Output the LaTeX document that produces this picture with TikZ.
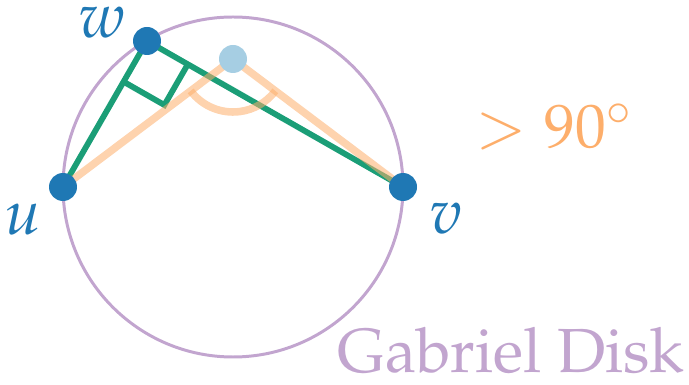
\documentclass[tikz,border=0pt]{standalone}
\usepackage[T1]{fontenc}
\usepackage{mathpazo}
\usepackage{tikz}
\usetikzlibrary{calc}
\usepackage{xcolor}
\definecolor{GDBlue}{HTML}{1F78B4}
\definecolor{GDLightBlue}{HTML}{A6CEE3}
\definecolor{GDGreen}{HTML}{1B9E77}
\definecolor{GDOrange}{HTML}{FDAE6B}
\definecolor{GDPurple}{HTML}{C2A5CF}

\begin{document}
\begin{tikzpicture}[
  x=0.02cm,y=0.02cm,
  disk/.style={draw=GDPurple,line width=1.7pt},
  edge/.style={draw=GDGreen,line width=3.3pt},
  obtuse/.style={draw=GDOrange,draw opacity=0.55,line width=4.3pt},
  vertex/.style={circle,fill=GDBlue,inner sep=0pt,minimum size=0.56cm},
  probe/.style={vertex,fill=GDLightBlue},
  vlabel/.style={inner sep=0pt,text=GDBlue,font=\fontsize{36}{42}\selectfont},
  anglelabel/.style={inner sep=0pt,text=GDOrange,font=\fontsize{35}{40}\selectfont},
  disklabel/.style={inner sep=0pt,text=GDPurple,font=\fontsize{35.5}{40}\selectfont}
]
\useasboundingbox (0,0) rectangle (689,385);

% The disk with diameter uv.
\draw[disk] (233,198) circle[radius=170];

\coordinate (u) at (63,198);
\coordinate (v) at (403,198);
\coordinate (w) at (147,344);
\coordinate (p) at (233,326);

% Green triangle edges and the right angle at w.
\draw[edge] (u) -- (w) -- (v);
\coordinate (ra1) at ($(w)!0.94cm!(u)$);
\coordinate (ra2) at ($(w)!0.94cm!(v)$);
\draw[edge] (ra1) -- ($(ra1)+(ra2)-(w)$) -- (ra2);

% Orange edges to the inner point and its obtuse angle.
\draw[obtuse,line join=round] (u) -- (p) -- (v);
\draw[obtuse] ([shift={(217:53)}]p) arc[start angle=217,end angle=323,radius=53];

\node[vertex] (nu) at (u) {};
\node[vertex] (nv) at (v) {};
\node[vertex] (nw) at (w) {};
\node[probe] (np) at (p) {};

\node[vlabel] (lu) at (23,165) {$u$};
\node[vlabel] (lv) at (446,166) {$v$};
\node[vlabel] (lw) at (102,362) {$w$};
\node[anglelabel] (gt) at (554,258) {$>90^\circ$};
\node[disklabel,anchor=base east] (title) at (685,12) {Gabriel Disk};

\end{tikzpicture}
\end{document}
